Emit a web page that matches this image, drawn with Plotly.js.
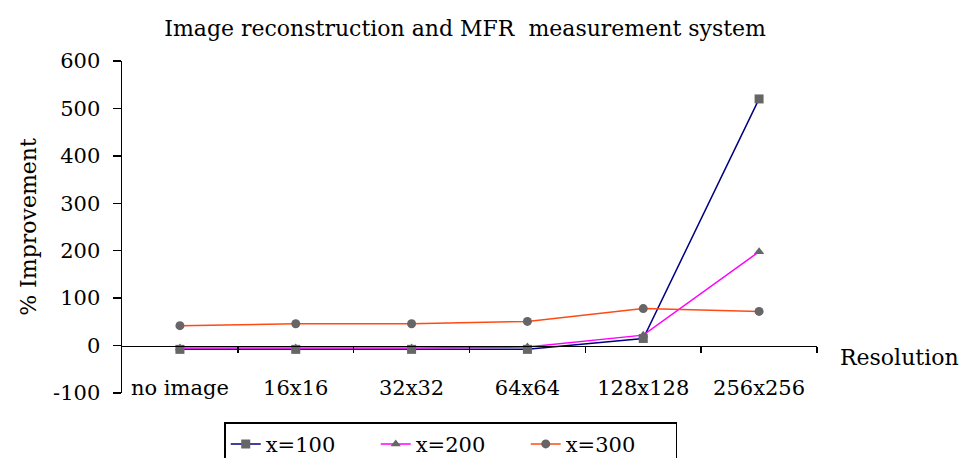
<!DOCTYPE html>
<html>
<head>
<meta charset="utf-8">
<script src="https://cdn.plot.ly/plotly-3.0.1.min.js"></script>
<style>html,body{margin:0;padding:0;background:#fff;}#chart{width:961px;height:458px;}</style>
</head>
<body>
<div id="chart"></div>
<script>
var categories = ["no image", "16x16", "32x32", "64x64", "128x128", "256x256"];
var seriesNames = ["x=100", "x=200", "x=300"];
var x100 = [-8, -8, -8, -8, 15, 520];
var x200 = [-5, -5, -5, -3, 22, 198];
var x300 = [42, 46, 46, 51, 78, 72];
var yTicks = [-100, 0, 100, 200, 300, 400, 500, 600];
var yTickText = ["-100", "0", "100", "200", "300", "400", "500", "600"];

var FONT = "DejaVu Serif, Liberation Serif, serif";
var FS = 21;
var idx = categories.map(function (c, i) { return i; });
var boundaries = categories.map(function (c, i) { return i + 0.5; });

function tr(name, y, color, symbol, xa) {
  return {
    type: "scatter", mode: "lines+markers", name: name,
    x: idx, y: y, xaxis: xa, yaxis: "y",
    line: {color: color, width: 1.5},
    marker: {symbol: symbol, size: 9, color: "#666666"}
  };
}

var data = [
  tr(seriesNames[0], x100, "#000080", "square", "x"),
  tr(seriesNames[1], x200, "#FF00FF", "triangle-up", "x"),
  tr(seriesNames[2], x300, "#FF4A14", "circle", "x2")
];

var layout = {
  width: 961, height: 458,
  margin: {l: 122, r: 144, t: 61, b: 65},
  paper_bgcolor: "#ffffff", plot_bgcolor: "#ffffff",
  font: {family: FONT, size: FS, color: "#000"},
  title: {text: "Image reconstruction and MFR  measurement system", font: {family: FONT, size: 22, color: "#000"},
          x: 0.484, xanchor: "center", y: 0.939, yanchor: "middle"},
  showlegend: true,
  legend: {orientation: "h", xref: "paper", yref: "container", x: 0.473, xanchor: "center", y: 0.078, yanchor: "top",
           bordercolor: "#000", borderwidth: 1.5, font: {family: FONT, size: FS},
           entrywidth: 105, entrywidthmode: "pixels", tracegroupgap: 0},
  xaxis: {
    range: [-0.5, 5.5], tickmode: "array", tickvals: idx, ticktext: categories,
    showline: false, ticks: "", showgrid: false, zeroline: false,
    anchor: "free", position: 0.06, tickfont: {family: FONT, size: FS}
  },
  xaxis2: {
    overlaying: "x", range: [-0.5, 5.5], tickmode: "array", tickvals: boundaries,
    showticklabels: false, showline: true, linecolor: "#000", linewidth: 1.5,
    ticks: "outside", ticklen: 6, tickwidth: 1.5, tickcolor: "#000",
    showgrid: false, zeroline: false, anchor: "free", position: 1 / 7
  },
  yaxis: {
    range: [-100, 600], tickmode: "array", tickvals: yTicks, ticktext: yTickText,
    showline: true, linecolor: "#000", linewidth: 1.5,
    ticks: "outside", ticklen: 8, tickwidth: 1.5, tickcolor: "#000", ticklabelstandoff: 8,
    showgrid: false, zeroline: false, tickfont: {family: FONT, size: FS},
    title: {text: "% Improvement", font: {family: FONT, size: 22}, standoff: 10}
  },
  annotations: [{
    text: "Resolution", xref: "paper", yref: "paper", x: 1.03, y: 0.107,
    xanchor: "left", yanchor: "middle", showarrow: false, font: {family: FONT, size: 22}
  }]
};

Plotly.newPlot("chart", data, layout, {displayModeBar: false, staticPlot: true});
</script>
</body>
</html>
